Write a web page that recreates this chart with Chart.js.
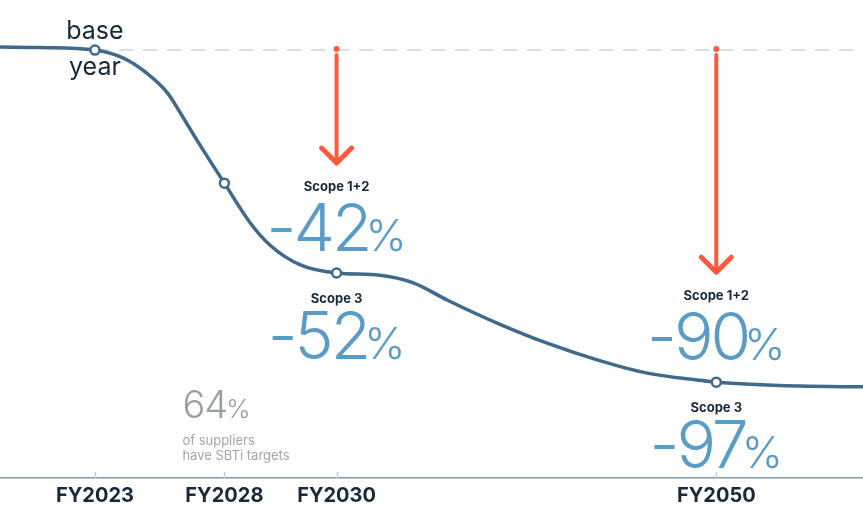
<!DOCTYPE html>
<html>
<head>
<meta charset="utf-8">
<script src="https://cdn.jsdelivr.net/npm/chart.js@4"></script>
<style>
  html, body { margin: 0; padding: 0; background: #fff; }
  #wrap { width: 863px; height: 510px; }
</style>
</head>
<body>
<div id="wrap"><canvas id="chart"></canvas></div>
<script>
// timeline position (0-100) and emissions level (base year = 100)
const curveX = [0, 4.6, 11.0, 14.3, 17.0, 19.4, 20.9, 22.8, 26.0, 29.0, 31.3, 34.8, 39.0, 44.0, 47.9, 51.8, 57.6, 63.4, 69.2, 75.0, 80.8, 83.0, 92.7, 100];
const curveY = [100.7, 100.6, 100.0, 98.1, 94.6, 90.0, 85.3, 79.0, 68.9, 59.6, 54.4, 49.8, 47.9, 47.4, 45.6, 41.6, 36.2, 31.5, 27.6, 24.5, 22.9, 22.4, 21.5, 21.3];

const milestoneLabels = ["FY2023", "FY2028", "FY2030", "FY2050"];
const milestoneX = [11.0, 26.0, 39.0, 83.0];
const milestoneY = [100.0, 68.9, 47.9, 22.4];

const baseLevel = 100;
const arrowX = [39.0, 83.0];
const arrowTip = [73.6, 48.1];

const targetX = [39.0, 83.0];
const scope12Targets = ["-42", "-90"];
const scope3Targets = ["-52", "-97"];
const supplierShare = "64";

const DARK = "#17293a";
const LINE = "#41698c";
const BLUE = "#5b9bc8";
const RED = "#ff5a3d";
const GREY = "#9a9ea3";

const toPts = (xs, ys) => xs.map((x, i) => ({ x: x, y: ys[i] }));

const annotations = {
  id: "annotations",
  afterDatasetsDraw(chart) {
    const ctx = chart.ctx;
    const xs = chart.scales.x;
    const ys = chart.scales.y;
    const area = chart.chartArea;

    // tick marks above the axis
    ctx.save();
    ctx.strokeStyle = "#c9ced3";
    ctx.lineWidth = 1.5;
    milestoneX.forEach((v) => {
      const px = Math.round(xs.getPixelForValue(v)) + 0.5;
      ctx.beginPath();
      ctx.moveTo(px, area.bottom - 6);
      ctx.lineTo(px, area.bottom);
      ctx.stroke();
    });
    ctx.restore();

    // red arrows
    ctx.save();
    ctx.strokeStyle = RED;
    ctx.fillStyle = RED;
    ctx.lineCap = "round";
    ctx.lineJoin = "round";
    arrowX.forEach((v, i) => {
      const px = xs.getPixelForValue(v);
      const top = ys.getPixelForValue(baseLevel) - 1;
      const tip = ys.getPixelForValue(arrowTip[i]);
      ctx.beginPath();
      ctx.arc(px, top, 3, 0, Math.PI * 2);
      ctx.fill();
      ctx.lineWidth = 4;
      ctx.beginPath();
      ctx.moveTo(px, top + 6);
      ctx.lineTo(px, tip - 2);
      ctx.stroke();
      ctx.lineWidth = 5;
      ctx.beginPath();
      ctx.moveTo(px - 15, tip - 15);
      ctx.lineTo(px, tip);
      ctx.lineTo(px + 15, tip - 15);
      ctx.stroke();
    });
    ctx.restore();

    const drawPct = (num, cx, baseline, big, small, color) => {
      ctx.letterSpacing = "-3px";
      ctx.font = "300 " + big + "px Inter";
      const w1 = ctx.measureText(num).width - 4;
      ctx.letterSpacing = "0px";
      ctx.font = "300 " + small + "px Inter";
      const w2 = ctx.measureText("%").width;
      const left = cx - (w1 + w2) / 2;
      ctx.fillStyle = color;
      ctx.textAlign = "left";
      ctx.textBaseline = "alphabetic";
      ctx.letterSpacing = "-3px";
      ctx.font = "300 " + big + "px Inter";
      ctx.fillText(num, left, baseline);
      ctx.letterSpacing = "0px";
      ctx.font = "300 " + small + "px Inter";
      ctx.fillText("%", left + w1, baseline);
    };

    ctx.save();
    // base year label
    const bx = xs.getPixelForValue(milestoneX[0]);
    const by = ys.getPixelForValue(milestoneY[0]);
    ctx.fillStyle = DARK;
    ctx.textAlign = "center";
    ctx.textBaseline = "alphabetic";
    ctx.font = "400 25px Inter";
    ctx.fillText("base", bx, by - 11);
    ctx.fillText("year", bx, by + 25);

    // targets
    targetX.forEach((v, i) => {
      const px = xs.getPixelForValue(v);
      const py = ys.getPixelForValue(milestoneY[milestoneX.indexOf(v)]);
      ctx.fillStyle = DARK;
      ctx.textAlign = "center";
      ctx.font = "700 13px Inter";
      ctx.fillText("Scope 1+2", px, py - 82);
      ctx.fillText("Scope 3", px, py + 30);
      drawPct(scope12Targets[i], px, py - 22, 66, 44, BLUE);
      drawPct(scope3Targets[i], px, py + 86, 66, 44, BLUE);
    });

    // supplier note
    const sx = xs.getPixelForValue(milestoneX[1]) - 42;
    ctx.textAlign = "left";
    ctx.fillStyle = GREY;
    ctx.letterSpacing = "-1px";
    ctx.font = "300 38px Inter";
    ctx.fillText(supplierShare, sx, area.bottom - 60);
    const w = ctx.measureText(supplierShare).width;
    ctx.letterSpacing = "0px";
    ctx.font = "300 26px Inter";
    ctx.fillText("%", sx + w - 1, area.bottom - 60);
    ctx.fillStyle = "#a2a6aa";
    ctx.font = "400 13px Inter";
    ctx.fillText("of suppliers", sx, area.bottom - 33);
    ctx.fillText("have SBTi targets", sx, area.bottom - 18);
    ctx.restore();
  }
};

new Chart(document.getElementById("chart"), {
  type: "line",
  data: {
    datasets: [
      {
        label: "Base level",
        data: toPts([milestoneX[0], 100], [baseLevel, baseLevel]),
        borderColor: "#cfd3d7",
        borderWidth: 1.5,
        borderDash: [14, 10],
        pointRadius: 0,
        order: 3
      },
      {
        label: "Emissions",
        data: toPts(curveX, curveY),
        borderColor: LINE,
        borderWidth: 3.5,
        pointRadius: 0,
        cubicInterpolationMode: "monotone",
        order: 2
      },
      {
        label: "Milestones",
        data: toPts(milestoneX, milestoneY),
        showLine: false,
        pointRadius: 4.5,
        pointBorderWidth: 2.5,
        pointBorderColor: LINE,
        pointBackgroundColor: "#fff",
        order: 1
      }
    ]
  },
  options: {
    responsive: true,
    maintainAspectRatio: false,
    animation: false,
    layout: { padding: 0, autoPadding: false },
    plugins: {
      legend: { display: false },
      tooltip: { enabled: false }
    },
    scales: {
      x: {
        type: "linear",
        min: 0,
        max: 100,
        afterBuildTicks: (scale) => {
          scale.ticks = milestoneX.map((v) => ({ value: v }));
        },
        afterFit: (scale) => {
          scale.height = 32;
        },
        grid: { display: false, drawTicks: false },
        border: { display: true, color: "#7d98ad", width: 1.5 },
        ticks: {
          padding: 6,
          autoSkip: false,
          maxRotation: 0,
          color: DARK,
          font: { family: "Inter", size: 20, weight: "700" },
          callback: (value) => {
            const i = milestoneX.indexOf(value);
            return i >= 0 ? milestoneLabels[i] : "";
          }
        }
      },
      y: {
        display: false,
        min: 0,
        max: 111.7
      }
    }
  },
  plugins: [annotations]
});
</script>
</body>
</html>
